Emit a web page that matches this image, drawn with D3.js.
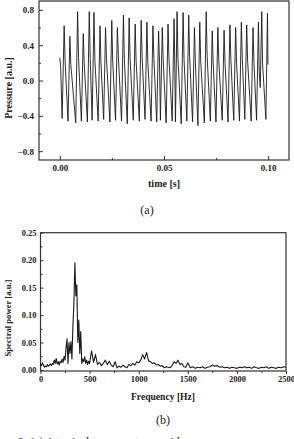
<!DOCTYPE html>
<html>
<head>
<meta charset="utf-8">
<script src="https://cdn.jsdelivr.net/npm/d3@7"></script>
<style>
  body { margin: 0; background: #fff; }
  svg { display: block; }
  .tick text { font-family: "Liberation Serif", serif; font-weight: bold; fill: #222; }
  .tick line { stroke: #333; }
</style>
</head>
<body>
<div id="chart"></div>
<script>
// (a) pressure trace, time in ms, one line per cycle: trough, peak, shoulder
const timeMs = [
    0, 0.4,
    1.1, 2.07, 2.52,
    3.92, 4.82, 5.27,
    7.63, 8.53, 8.98,
    10.34, 11.24, 11.69,
    13.23, 14.13, 14.58,
    15.49, 16.39, 16.84,
    18.39, 19.29, 19.74,
    21.04, 21.94, 22.39,
    24.03, 24.93, 25.38,
    26.73, 27.63, 28.08,
    29.62, 30.52, 30.97,
    32.37, 33.27, 33.72,
    35.26, 36.16, 36.61,
    38.15, 39.05, 39.50,
    40.90, 41.80, 42.25,
    43.80, 44.70, 45.15,
    46.50, 47.40, 47.85,
    48.28, 49.18, 49.63,
    51.03, 51.93, 52.38,
    53.93, 54.83, 55.10,
    55.50, 56.27, 56.70,
    58.27, 59.17, 59.62,
    60.97, 61.87, 62.32,
    63.71, 64.61, 65.06,
    66.27, 67.17, 67.62,
    69.36, 70.26, 70.71,
    72.25, 73.15, 73.60,
    74.95, 75.85, 76.30,
    77.94, 78.84, 79.29,
    80.74, 81.64, 82.09,
    83.48, 84.38, 84.83,
    86.23, 87.13, 87.58,
    88.79, 89.69, 90.14,
    91.83, 92.73, 93.18,
    94.43, 95.33, 95.70,
    96.20, 96.92, 97.30,
    98.90, 99.67, 99.90
];
const pressure = [
    0.26, 0.15,
    -0.43, 0.62, 0.22,
    -0.46, 0.50, 0.18,
    -0.48, 0.78, 0.26,
    -0.46, 0.53, 0.20,
    -0.47, 0.78, 0.25,
    -0.45, 0.77, 0.22,
    -0.46, 0.62, 0.20,
    -0.44, 0.60, 0.25,
    -0.47, 0.68, 0.22,
    -0.45, 0.60, 0.28,
    -0.46, 0.74, 0.24,
    -0.49, 0.71, 0.25,
    -0.45, 0.64, 0.22,
    -0.46, 0.68, 0.26,
    -0.44, 0.66, 0.20,
    -0.46, 0.62, 0.25,
    -0.47, 0.56, 0.20,
    -0.45, 0.60, 0.22,
    -0.48, 0.64, 0.26,
    -0.46, 0.70, 0.30,
    -0.47, 0.78, 0.25,
    -0.49, 0.77, 0.24,
    -0.46, 0.74, 0.26,
    -0.47, 0.60, 0.20,
    -0.51, 0.66, 0.22,
    -0.48, 0.78, 0.27,
    -0.46, 0.56, 0.20,
    -0.47, 0.60, 0.22,
    -0.45, 0.57, 0.20,
    -0.47, 0.63, 0.24,
    -0.45, 0.60, 0.20,
    -0.46, 0.66, 0.25,
    -0.44, 0.63, 0.22,
    -0.46, 0.60, 0.20,
    -0.45, 0.66, 0.10,
    -0.08, 0.78, 0.20,
    -0.44, 0.76, 0.18
];
const timeTicks = [0, 50, 100];
const timeMinor = [25, 75];
const pressureTicks = [-0.8, -0.4, 0.0, 0.4, 0.8];
const pressureMinor = [-0.6, -0.2, 0.2, 0.6];

// (b) spectrum
const freqHz = [
    0, 10, 20, 30, 40, 50, 60, 70, 80, 90,
    100, 110, 120, 130, 140, 150, 160, 170, 180, 190,
    200, 210, 220, 230, 240, 250, 260, 270, 280, 290,
    300, 310, 320, 330, 340, 350, 360, 370, 380, 390,
    400, 410, 420, 430, 440, 450, 460, 470, 480, 490, 500,
    520, 540, 560, 580, 600, 620, 640, 660, 680, 700,
    720, 740, 760, 780, 800, 820, 840, 860, 880, 900,
    920, 940, 960, 980, 1000, 1020, 1040, 1060, 1080, 1100,
    1120, 1140, 1160, 1180, 1200, 1220, 1240, 1260, 1280, 1300,
    1320, 1340, 1360, 1380, 1400, 1420, 1440, 1460, 1480, 1500,
    1525, 1550, 1575, 1600, 1625, 1650, 1675, 1700, 1725, 1750,
    1775, 1800, 1825, 1850, 1875, 1900, 1925, 1950, 1975, 2000,
    2025, 2050, 2075, 2100, 2125, 2150, 2175, 2200, 2225, 2250,
    2275, 2300, 2325, 2350, 2375, 2400, 2425, 2450, 2475, 2500
];
const spectralPower = [
    0.012, 0.008, 0.013, 0.009, 0.005, 0.007, 0.006, 0.010, 0.007, 0.009,
    0.011, 0.008, 0.012, 0.010, 0.018, 0.012, 0.021, 0.011, 0.015, 0.009,
    0.016, 0.013, 0.020, 0.014, 0.025, 0.018, 0.040, 0.057, 0.012, 0.050,
    0.030, 0.052, 0.020, 0.080, 0.120, 0.195, 0.135, 0.155, 0.050, 0.091,
    0.030, 0.070, 0.012, 0.020, 0.015, 0.024, 0.012, 0.018, 0.010, 0.016, 0.012,
    0.035, 0.014, 0.028, 0.010, 0.014, 0.008, 0.012, 0.018, 0.010, 0.016,
    0.009, 0.006, 0.015, 0.004, 0.007, 0.005, 0.009, 0.006, 0.004, 0.010,
    0.008, 0.012, 0.009, 0.015, 0.013, 0.018, 0.028, 0.020, 0.032, 0.017,
    0.015, 0.012, 0.013, 0.009, 0.010, 0.007, 0.008, 0.004, 0.006, 0.005,
    0.004, 0.008, 0.015, 0.012, 0.018, 0.010, 0.012, 0.006, 0.005, 0.013,
    0.004, 0.006, 0.003, 0.005, 0.004, 0.006, 0.003, 0.005, 0.006, 0.009,
    0.007, 0.008, 0.005, 0.006, 0.004, 0.005, 0.003, 0.005, 0.004, 0.003,
    0.005, 0.004, 0.006, 0.004, 0.005, 0.003, 0.006, 0.004, 0.003, 0.005,
    0.004, 0.006, 0.003, 0.005, 0.004, 0.003, 0.005, 0.004, 0.006, 0.005
];
const freqTicks = [0, 500, 1000, 1500, 2000, 2500];
const freqMinor = [250, 750, 1250, 1750, 2250];
const powerTicks = [0, 0.05, 0.10, 0.15, 0.20, 0.25];
const powerMinor = [0.025, 0.075, 0.125, 0.175, 0.225];

const width = 294, height = 439;

let svg = d3.select("#chart")
    .append("svg")
    .attr("width", width)
    .attr("height", height);

// ---------- (a) ----------
const x1 = d3.scaleLinear().domain([-10, 110]).range([39, 289]);
const y1 = d3.scaleLinear().domain([-0.9, 0.9]).range([160, 1]);

svg.append("g")
    .attr("transform", "translate(0,160)")
    .call(d3.axisBottom(x1).tickValues(timeTicks).tickSize(-4).tickPadding(5)
        .tickFormat(d => (d / 1000).toFixed(2)))
    .call(g => g.select(".domain").remove())
    .selectAll("text").style("font-size", "9px");

svg.append("g")
    .attr("transform", "translate(0,160)")
    .call(d3.axisBottom(x1).tickValues(timeMinor).tickSize(-2).tickFormat(""))
    .call(g => g.select(".domain").remove());

svg.append("g")
    .attr("transform", "translate(39,0)")
    .call(d3.axisLeft(y1).tickValues(pressureTicks).tickSize(-4).tickPadding(5)
        .tickFormat(d3.format(".1f")))
    .call(g => g.select(".domain").remove())
    .selectAll("text").style("font-size", "9px");

svg.append("g")
    .attr("transform", "translate(39,0)")
    .call(d3.axisLeft(y1).tickValues(pressureMinor).tickSize(-2).tickFormat(""))
    .call(g => g.select(".domain").remove());

svg.append("rect")
    .attr("x", 39).attr("y", 1)
    .attr("width", 250).attr("height", 159)
    .attr("fill", "none")
    .attr("stroke", "#333")
    .attr("stroke-width", 1.2);

const trace = timeMs.map((t, i) => [t, pressure[i]]);

svg.append("path")
    .datum(trace)
    .attr("fill", "none")
    .attr("stroke", "#1a1a1a")
    .attr("stroke-width", 0.9)
    .attr("stroke-linejoin", "round")
    .attr("d", d3.line().x(d => x1(d[0])).y(d => y1(d[1])));

svg.append("text")
    .text("Pressure [a.u.]")
    .attr("transform", "translate(12,88) rotate(-90)")
    .attr("text-anchor", "middle")
    .style("font-family", "Liberation Serif, serif")
    .style("font-weight", "bold")
    .style("font-size", "10px")
    .style("fill", "#222");

svg.append("text")
    .text("time [s]")
    .attr("x", 164).attr("y", 187)
    .attr("text-anchor", "middle")
    .style("font-family", "Liberation Serif, serif")
    .style("font-weight", "bold")
    .style("font-size", "10px")
    .style("fill", "#222");

svg.append("text")
    .text("(a)")
    .attr("x", 147).attr("y", 214)
    .attr("text-anchor", "middle")
    .style("font-family", "Liberation Serif, serif")
    .style("font-size", "12px")
    .style("fill", "#222");

// ---------- (b) ----------
const x2 = d3.scaleLinear().domain([0, 2500]).range([40.5, 286]);
const y2 = d3.scaleLinear().domain([0, 0.25]).range([370, 232.7]);

svg.append("g")
    .attr("transform", "translate(0,371)")
    .call(d3.axisBottom(x2).tickValues(freqTicks).tickSize(3).tickPadding(2)
        .tickFormat(d3.format("d")))
    .call(g => g.select(".domain").remove())
    .selectAll("text").style("font-size", "8.5px");

svg.append("g")
    .attr("transform", "translate(0,371)")
    .call(d3.axisBottom(x2).tickValues(freqMinor).tickSize(2).tickFormat(""))
    .call(g => g.select(".domain").remove());

svg.append("g")
    .attr("transform", "translate(40.5,0)")
    .call(d3.axisLeft(y2).tickValues(powerTicks).tickSize(-3).tickPadding(4)
        .tickFormat(d3.format(".2f")))
    .call(g => g.select(".domain").remove())
    .selectAll("text").style("font-size", "8.5px");

svg.append("g")
    .attr("transform", "translate(40.5,0)")
    .call(d3.axisLeft(y2).tickValues(powerMinor).tickSize(-2).tickFormat(""))
    .call(g => g.select(".domain").remove());

svg.append("rect")
    .attr("x", 40.5).attr("y", 232.7)
    .attr("width", 245.5).attr("height", 138.3)
    .attr("fill", "none")
    .attr("stroke", "#333")
    .attr("stroke-width", 1.2);

const spectrum = freqHz.map((f, i) => [f, spectralPower[i]]);

svg.append("path")
    .datum(spectrum)
    .attr("fill", "none")
    .attr("stroke", "#1a1a1a")
    .attr("stroke-width", 1.1)
    .attr("stroke-linejoin", "round")
    .attr("d", d3.line().x(d => x2(d[0])).y(d => y2(d[1])));

svg.append("text")
    .text("Spectral power [a.u.]")
    .attr("transform", "translate(11,318) rotate(-90)")
    .attr("text-anchor", "middle")
    .attr("textLength", 77)
    .attr("lengthAdjust", "spacingAndGlyphs")
    .style("font-family", "Liberation Serif, serif")
    .style("font-weight", "bold")
    .style("font-size", "9px")
    .style("fill", "#222");

svg.append("text")
    .text("Frequency [Hz]")
    .attr("x", 163).attr("y", 400)
    .attr("text-anchor", "middle")
    .attr("textLength", 64)
    .attr("lengthAdjust", "spacingAndGlyphs")
    .style("font-family", "Liberation Serif, serif")
    .style("font-weight", "bold")
    .style("font-size", "9.5px")
    .style("fill", "#222");

svg.append("text")
    .text("(b)")
    .attr("x", 163).attr("y", 424)
    .attr("text-anchor", "middle")
    .style("font-family", "Liberation Serif, serif")
    .style("font-size", "12px")
    .style("fill", "#222");

// caption line, cut by the bottom edge as in the source
svg.append("text")
    .text("2. (a)  A typical pressure trace with")
    .attr("x", 18).attr("y", 446)
    .style("font-family", "Liberation Serif, serif")
    .style("font-size", "12px")
    .style("fill", "#222");
</script>
</body>
</html>
